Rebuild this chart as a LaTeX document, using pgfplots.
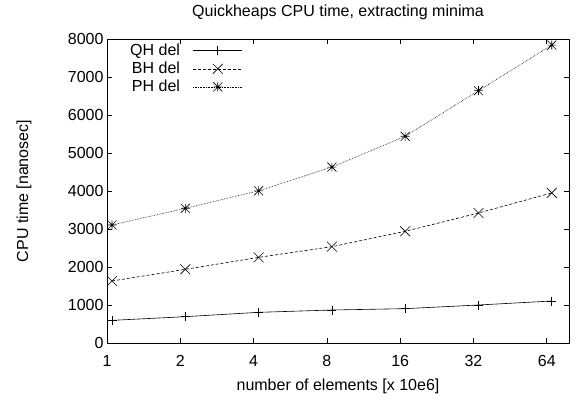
\documentclass[border=0pt]{standalone}
\usepackage{pgfplots}
\pgfplotsset{compat=1.18}
\usepackage{fontspec}
\setmainfont{Liberation Sans}
\pgfdeclareplotmark{ast8}{%
  \pgfpathmoveto{\pgfqpoint{-\pgfplotmarksize}{0pt}}\pgfpathlineto{\pgfqpoint{\pgfplotmarksize}{0pt}}%
  \pgfpathmoveto{\pgfqpoint{0pt}{-\pgfplotmarksize}}\pgfpathlineto{\pgfqpoint{0pt}{\pgfplotmarksize}}%
  \pgfpathmoveto{\pgfqpoint{-\pgfplotmarksize}{-\pgfplotmarksize}}\pgfpathlineto{\pgfqpoint{\pgfplotmarksize}{\pgfplotmarksize}}%
  \pgfpathmoveto{\pgfqpoint{-\pgfplotmarksize}{\pgfplotmarksize}}\pgfpathlineto{\pgfqpoint{\pgfplotmarksize}{-\pgfplotmarksize}}%
  \pgfusepathqstroke}
\newcommand{\ff}{\fontsize{16}{19}\selectfont}
\begin{document}
\begin{tikzpicture}[font=\ff]
\path[use as bounding box] (-107pt,-63pt) rectangle (470pt,343pt);
\begin{axis}[
  at={(0pt,0pt)}, anchor=south west,
  scale only axis, width=462pt, height=304pt,
  xmode=log, log basis x=2,
  xmin=1, xmax=79, ymin=0, ymax=8000,
  xtick={1,2,4,8,16,32,64}, xticklabels={1,2,4,8,16,32,64},
  ytick={0,1000,...,8000},
  yticklabel style={/pgf/number format/fixed, /pgf/number format/1000 sep={}},
  xticklabel style={yshift=-9pt},
  scaled y ticks=false,
  /pgf/number format/assume math mode=true,
  tick label style={font=\ff},
  label style={font=\ff},
  tick align=inside, major tick length=5pt, minor tick num=0,
  xminorticks=false,
  axis line style={line width=0.8pt},
  tick style={black, line width=0.6pt},
  title={Quickheaps CPU time, extracting minima},
  title style={at={(rel axis cs:0.5,1)}, anchor=center, yshift=21pt, font=\ff},
  xlabel={number of elements [x 10e6]},
  xlabel style={at={(rel axis cs:0.5,0)}, anchor=center, yshift=-43pt},
  ylabel={CPU time [nanosec]},
  ylabel style={at={(rel axis cs:0,0.5)}, anchor=center, yshift=83pt},
  legend style={at={(rel axis cs:0,1)}, anchor=north west, xshift=14pt, yshift=-1pt, draw=none, fill=none, row sep=1pt,
    font=\ff, nodes={inner xsep=6pt}},
  legend cell align=right, legend plot pos=right,
  legend image code/.code={\path (0pt,0pt); \draw[mark repeat=2,mark phase=2] plot coordinates {(7pt,0pt) (31.5pt,0pt) (56pt,0pt)};},
  every axis plot/.append style={line width=0.6pt, black},
]
\addplot[solid, mark=+, mark size=4.5pt, mark options={solid}] coordinates {
(1.048576,596) (2.097152,693) (4.194304,807) (8.388608,868) (16.777216,904) (33.554432,1000) (67.108864,1105)};
\addlegendentry{QH del}
\addplot[densely dashed, mark=x, mark size=7pt, mark options={solid}] coordinates {
(1.048576,1632) (2.097152,1939) (4.194304,2254) (8.388608,2535) (16.777216,2939) (33.554432,3420) (67.108864,3950)};
\addlegendentry{BH del}
\addplot[densely dotted, mark=ast8, mark size=4.5pt, mark options={solid}] coordinates {
(1.048576,3105) (2.097152,3545) (4.194304,4005) (8.388608,4630) (16.777216,5440) (33.554432,6640) (67.108864,7840)};
\addlegendentry{PH del}
\end{axis}
\end{tikzpicture}
\end{document}
